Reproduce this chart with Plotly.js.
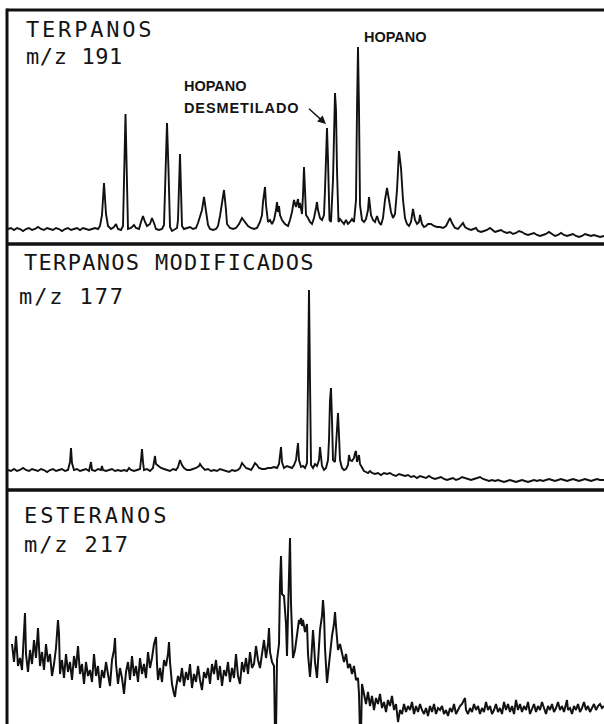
<!DOCTYPE html>
<html>
<head>
<meta charset="utf-8">
<script src="https://cdn.plot.ly/plotly-3.0.1.min.js"></script>
<style>
html,body{margin:0;padding:0;background:#fff;}
#chart{width:604px;height:724px;}
</style>
</head>
<body>
<div id="chart"></div>
<script>
// ---- Panel 1: TERPANOS m/z 191 ----
var scan191 = [8,11,14,17,20,23,26,29,32,35,38,41,44,47,50,53,56,59,62,65,68,71,74,77,80,83,86,89,92,95,98,
100,102,104,106,108,111,114,116,118,121,123,125.5,127,128,131,134,136,139,141,143,145,147,150,152,154,156,159,162,164,
166,167,168.5,170,172,175,177,178,179,180,181,182,184,187,190,193,196,198,200,202,204,206,208,210,213,216,218,220,222,
224,226,227,230,233,236,239,242,245,248,251,254,257,260,262,263,265,266,268,270,272,274,276,277,278,279,280,282,285,
288,290,292,294,296,298,299,300,302,303,304,305,306,308,310,312,314,316,317,318,320,322,324,325,326,327,328,329.5,331,
333,335,336,337,338.5,340,342,344,346,348,350,352,354,356,357,358,359,360,362,364,366,368,369,371,373,375,377,379,381,
383,385,387,389,391,393,395,397,399,401,403,405,407,409,411,413,415,417,419,420,422,424,426,428,431,434,437,440,443,
446,448,450,452,455,458,461,463,465,468,471,474,476,478,481,484,487,490,492,495,498,501,504,507,510,513,516,519,522,
525,528,531,534,537,540,543,546,549,552,555,558,561,564,567,570,573,576,579,582,585,588,591,594,597,600,604];
var abund191 = [15,16,14,16,15,13,15,16,14,15,17,15,14,16,15,14,16,15,13,15,16,14,15,16,14,16,15,14,15,16,15,
18,29,61,30,18,15,17,20,15,14,18,130,44,15,16,19,16,15,22,28,22,18,20,26,21,15,14,15,19,
84,121,74,17,13,15,16,24,64,90,54,18,15,16,17,15,16,21,29,34,47,32,19,15,14,15,18,28,44,
54,34,20,16,15,16,20,26,22,18,16,15,16,22,29,42,57,39,22,24,20,24,34,42,32,38,29,24,20,
18,24,32,44,37,45,36,41,30,49,77,54,29,26,22,20,26,36,42,34,26,24,29,54,99,116,84,24,22,
64,151,134,74,22,25,23,20,24,20,22,25,22,44,134,197,134,39,24,22,25,34,47,29,24,22,28,22,19,
26,44,56,44,32,26,30,54,93,76,44,26,20,18,22,35,24,20,22,29,20,17,18,20,20,18,17,17,16,
18,22,26,21,16,15,19,21,17,15,14,15,16,13,12,13,14,16,14,12,13,14,12,11,12,10,11,13,12,
10,9,10,11,9,8,9,10,12,10,8,9,11,9,8,9,10,8,7,8,10,9,8,9,8,7,8];

// ---- Panel 2: TERPANOS MODIFICADOS m/z 177 ----
var scan177 = [8,11,14,17,20,23,26,29,32,35,38,41,44,47,50,53,56,59,62,65,68,70,71,72,74,77,80,83,86,89,90,91,92,95,98,
101,102,103,106,109,112,115,118,121,124,127,129,131,134,137,140,141,142,143,144,147,150,153,154,155,156,158,161,164,167,
170,173,176,178,180,182,184,187,190,193,196,199,200,202,205,208,211,214,217,220,223,226,229,232,235,238,240,242,244,246,
249,251,253,255,257,259,262,265,268,271,274,277,279,281,282,284,287,289,292,294,296,298,299,301,303,305,307,308,309,310,
311,313,315,317,319,320,321,322,324,326,328,329,330,331,332,333,335,336,337,338,339,340,342,344,346,348,349,350,352,354,
355,356,357,358,359,360,362,364,366,368,370,372,375,378,381,384,387,390,393,396,399,402,405,408,411,414,417,420,423,426,
429,432,435,438,441,444,447,450,453,456,459,462,465,468,471,474,477,480,483,486,489,492,495,498,501,504,507,510,513,516,
519,522,525,528,531,534,537,540,543,546,549,552,555,558,561,564,567,570,573,576,579,582,585,588,591,594,597,600,604];
var abund177 = [20,19,21,19,20,22,20,19,21,20,19,21,20,18,20,21,19,20,21,19,20,28,42,27,20,21,19,20,21,19,24,28,20,19,21,
20,24,20,19,20,21,19,20,19,20,19,22,20,19,20,21,30,41,28,20,21,19,22,30,34,26,24,22,21,20,
19,21,20,23,30,25,22,20,20,21,22,24,26,23,20,21,19,20,19,21,20,19,18,20,19,20,22,27,24,22,
21,20,23,27,25,22,21,21,22,22,23,22,26,43,28,22,24,23,22,25,30,47,30,23,24,22,27,110,200,110,
25,22,26,24,30,43,32,24,20,22,30,50,90,102,70,30,28,45,72,77,55,30,22,20,21,25,35,30,29,32,
37,39,28,33,35,26,22,19,18,17,19,17,16,17,15,17,16,17,15,14,16,15,14,15,13,14,12,14,13,12,
14,12,11,12,13,11,10,11,12,10,11,13,12,11,10,11,12,13,11,10,9,10,9,10,9,8,9,10,9,8,
9,10,9,8,9,10,9,10,9,10,11,10,9,10,11,10,9,10,11,10,9,10,11,10,9,10,11,10,10];

// ---- Panel 3: ESTERANOS m/z 217 ----
var scan217 = [12,14,16,18,20,22,24,25,26,28,30,32,34,36,38,40,42,44,46,48,50,52,54,56,58,59,60,62,64,66,68,70,72,74,76,
78,80,82,84,86,88,90,92,94,96,98,100,102,104,106,108,110,112,114,115,116,118,120,122,124,126,128,130,132,134,136,138,140,
142,144,146,148,150,152,154,156,157,158,160,162,164,166,168,169,170,172,174,175,176,178,180,182,184,186,188,190,192,194,
196,198,200,202,204,206,208,210,212,214,216,218,220,222,224,226,228,230,232,234,236,238,240,242,244,246,248,250,252,254,
256,258,260,262,264,266,268,269,270,272,274,275,276,277,279,280,281,282,284,286,287,288,289,290,291,292,293,295,297,299,
300,301,302,303,305,307,308,309,310,311,313,314,315,317,318,320,322,323,324,325,327,328,330,332,334,335,336,337,338,340,
342,344,346,348,350,352,354,356,358,359,360,361,362,364,366,368,370,372,374,376,378,380,382,384,386,388,390,392,394,396,
398,399,400,402,404,406,408,410,412,414,416,418,420,422,424,426,428,430,432,434,436,438,440,442,444,446,448,450,452,454,
456,458,460,462,464,465,466,468,470,472,474,476,478,480,482,484,486,488,490,492,494,496,498,500,502,504,506,508,510,512,
514,516,518,520,522,524,526,528,530,532,534,536,538,540,542,544,546,548,550,552,554,556,558,560,562,564,566,567,568,570,
572,574,576,578,580,582,584,586,588,590,592,594,596,598,600,602,604];
var abund217 = [80,62,88,58,66,54,92,111,70,52,74,60,84,66,96,58,72,54,80,62,70,48,60,76,104,90,50,64,46,70,52,62,44,68,56,
78,50,60,40,62,48,54,42,70,48,58,36,54,46,62,50,38,64,74,86,60,40,56,46,30,52,62,44,68,48,58,42,66,
50,60,46,72,56,66,80,87,60,44,56,42,64,58,70,82,62,40,30,27,36,48,42,56,38,52,44,60,36,50,
42,58,44,34,52,46,56,40,60,50,64,44,58,38,54,48,62,42,56,46,70,48,40,62,52,66,50,72,56,60,
78,64,56,70,84,66,80,96,72,62,58,-10,-10,64,80,140,168,130,128,100,68,110,170,186,120,80,66,74,90,104,
100,106,98,104,92,100,70,52,47,60,94,80,62,46,60,94,108,124,110,76,41,52,72,88,100,112,98,86,74,80,
70,62,70,56,60,50,58,44,46,30,-10,-10,40,30,20,32,18,28,14,26,20,30,16,22,12,24,18,28,14,20,
2,8,14,10,20,12,18,14,22,10,18,12,20,14,10,16,8,18,12,20,10,16,14,18,10,14,8,16,12,20,
10,14,18,20,24,26,14,10,16,12,20,14,18,10,16,12,22,14,18,10,14,20,12,16,10,22,14,20,12,18,
10,24,14,20,12,18,14,22,10,16,20,12,18,14,22,16,10,18,14,20,12,16,22,14,18,12,20,24,14,16,
10,18,14,20,12,16,22,14,18,12,16,20,14,18,20,16,18];

// ---- Labels ----
var title1 = "TERPANOS", mass1 = "m/z 191";
var title2 = "TERPANOS MODIFICADOS", mass2 = "m/z 177";
var title3 = "ESTERANOS", mass3 = "m/z 217";
var peakLabel = "HOPANO", desmLine1 = "HOPANO", desmLine2 = "DESMETILADO";

var W = 604, H = 724;
function px(x){ return x / W; }
function py(y){ return 1 - y / H; }

var traces = [
  {x: scan191, y: abund191, xaxis: 'x', yaxis: 'y', mode: 'lines', line: {color: '#111', width: 1.9}, hoverinfo: 'skip'},
  {x: scan177, y: abund177, xaxis: 'x', yaxis: 'y2', mode: 'lines', line: {color: '#111', width: 1.9}, hoverinfo: 'skip'},
  {x: scan217, y: abund217, xaxis: 'x', yaxis: 'y3', mode: 'lines', line: {color: '#111', width: 2}, hoverinfo: 'skip'}
];

var hidden = {visible: false, showgrid: false, zeroline: false, fixedrange: true};
var mono = {family: 'DejaVu Sans Mono', size: 22, color: '#151515'};
var bold = {family: 'Liberation Sans', size: 14.5, color: '#151515', weight: 'bold'};

function lab(text, left, cy, font, spacing){
  return {text: text, xref: 'paper', yref: 'paper', x: px(left), y: py(cy),
          xanchor: 'left', yanchor: 'middle', align: 'left', showarrow: false,
          font: font, borderpad: 0, borderwidth: 0, _sp: spacing};
}

var anns = [
  lab(title1, 26, 30, mono, 2.8),
  lab(mass1, 26, 57, mono, 0.6),
  lab(title2, 24, 262, mono, 1.3),
  lab(mass2, 19, 296.5, mono, 1.9),
  lab(title3, 24, 515, mono, 2.9),
  lab(mass3, 24, 544.5, mono, 1.9),
  lab(peakLabel, 364, 37, bold, 0),
  lab(desmLine1, 184, 86, bold, 0),
  lab(desmLine2, 184, 108, bold, 0.9),
  {text: ' ', xref: 'paper', yref: 'paper', x: px(326), y: py(124),
   showarrow: true, ax: -19, ay: -17, arrowhead: 2, arrowsize: 1.1, arrowwidth: 1.5,
   arrowcolor: '#151515', standoff: 0, font: {size: 2}}
];
var spacings = anns.map(function(a){ var s = a._sp; delete a._sp; return s; });

var shapes = [
  {type: 'line', xref: 'paper', yref: 'paper', x0: px(7), x1: 1, y0: py(10), y1: py(10), line: {color: '#111', width: 3}},
  {type: 'line', xref: 'paper', yref: 'paper', x0: px(7), x1: px(7), y0: py(8.5), y1: 0, line: {color: '#111', width: 3}},
  {type: 'line', xref: 'paper', yref: 'paper', x0: px(7), x1: 1, y0: py(244), y1: py(244), line: {color: '#111', width: 3.5}},
  {type: 'line', xref: 'paper', yref: 'paper', x0: px(7), x1: 1, y0: py(490), y1: py(490), line: {color: '#111', width: 3.5}}
];

var layout = {
  width: W, height: H,
  margin: {l: 0, r: 0, t: 0, b: 0, pad: 0},
  paper_bgcolor: '#ffffff', plot_bgcolor: 'rgba(0,0,0,0)',
  showlegend: false,
  xaxis: Object.assign({range: [0, 604], domain: [0, 1], anchor: 'y3'}, hidden),
  yaxis: Object.assign({range: [0, 234], domain: [py(244), py(10)], anchor: 'x'}, hidden),
  yaxis2: Object.assign({range: [0, 246], domain: [py(490), py(244)], anchor: 'x'}, hidden),
  yaxis3: Object.assign({range: [0, 234], domain: [0, py(490)], anchor: 'x'}, hidden),
  annotations: anns,
  shapes: shapes
};

Plotly.newPlot('chart', traces, layout, {staticPlot: true, displayModeBar: false}).then(function(gd){
  var groups = gd.querySelectorAll('g.annotation');
  groups.forEach(function(g){
    var idx = +g.getAttribute('data-index');
    var sp = spacings[idx];
    if (sp) {
      var t = g.querySelector('text.annotation-text');
      if (t) t.style.letterSpacing = sp + 'px';
    }
  });
});
</script>
</body>
</html>
